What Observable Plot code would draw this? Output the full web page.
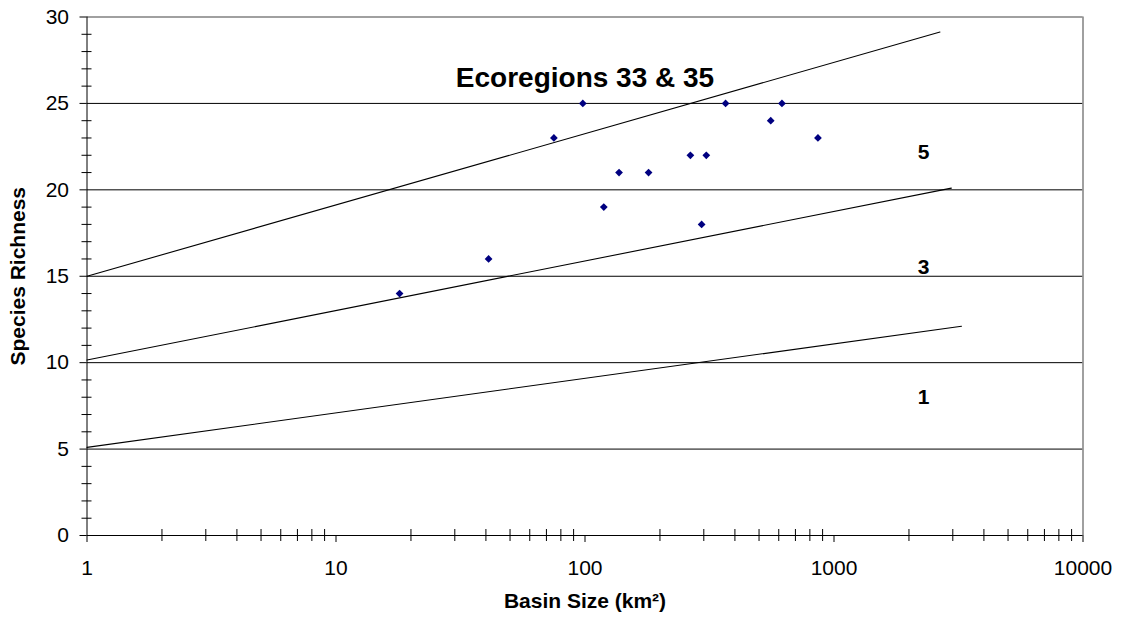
<!DOCTYPE html>
<html><head><meta charset="utf-8">
<script src="https://cdn.jsdelivr.net/npm/d3@7"></script>
<script src="https://cdn.jsdelivr.net/npm/@observablehq/plot@0.6"></script>
<style>html,body{margin:0;padding:0;background:#fff;} svg{display:block;}</style>
</head><body><div id="chart"></div>
<script>
// Observed basins
const basinSize = [18, 41, 75, 98, 119, 137, 180, 265, 294, 307, 367, 557, 618, 862];
const richness  = [14, 16, 23, 25, 19, 21, 21, 22, 18, 22, 25, 24, 25, 23];

// Scoring boundary lines (start and end points)
const boundaryNames  = ["upper", "middle", "lower"];
const boundaryStartX = [1, 1, 1];
const boundaryStartY = [15.0, 10.15, 5.1];
const boundaryEndX   = [2665, 2960, 3250];
const boundaryEndY   = [29.13, 20.1, 12.11];

// Zone score labels
const zoneLabels = ["5", "3", "1"];
const zoneLabelX = [2290, 2290, 2290];
const zoneLabelY = [22.2, 15.5, 8.0];

// Axes
const yTicks = [0, 5, 10, 15, 20, 25, 30];
const xTicks = [1, 10, 100, 1000, 10000];
const chartTitle = "Ecoregions 33 & 35";
const xTitle = "Basin Size (km²)";
const yTitle = "Species Richness";

const points = basinSize.map((x, i) => ({x, y: richness[i]}));
const boundaries = boundaryNames.flatMap((name, i) => [
  {name, x: boundaryStartX[i], y: boundaryStartY[i]},
  {name, x: boundaryEndX[i], y: boundaryEndY[i]}
]);
const labels = zoneLabels.map((t, i) => ({t, x: zoneLabelX[i], y: zoneLabelY[i]}));
const xMinor = [];
for (const d of [1, 10, 100, 1000]) for (let k = 2; k <= 9; k++) xMinor.push(d * k);
const yMinor = d3.range(0, 31).filter(v => v % 5 !== 0);

const font = "Arial, 'Liberation Sans', sans-serif";
const plot = Plot.plot({
  width: 1123, height: 631,
  marginLeft: 86.5, marginRight: 40.5, marginTop: 16.5, marginBottom: 96,
  style: {fontFamily: font, fontSize: "21px", color: "#000", background: "#fff"},
  x: {type: "log", domain: [1, 10000]},
  y: {domain: [0, 30]},
  marks: [
    Plot.ruleY(yTicks.filter(v => v > 0 && v < 30), {stroke: "#000", strokeWidth: 1}),
    Plot.ruleY([30], {stroke: "#808080", strokeWidth: 1.5}),
    Plot.ruleX([10000], {stroke: "#808080", strokeWidth: 1.5}),
    Plot.line(boundaries, {x: "x", y: "y", z: "name", stroke: "#000", strokeWidth: 1.1}),
    Plot.dot(points, {x: "x", y: "y", symbol: "diamond2", r: 3.5, fill: "#000080", stroke: "none"}),
    Plot.ruleX([1], {stroke: "#000", strokeWidth: 1}),
    Plot.ruleY([0], {stroke: "#000", strokeWidth: 1}),
    Plot.axisY({ticks: yTicks, tickSize: 7, tickPadding: 11, fontSize: 21, label: null, tickFormat: d => String(d)}),
    Plot.axisY({ticks: yMinor, tickSize: 10, dx: 5, fill: "none", label: null}),
    Plot.axisX({ticks: xTicks, tickSize: 7, tickPadding: 18, fontSize: 21, label: null, tickFormat: d => String(d)}),
    Plot.axisX({ticks: xMinor, tickSize: 12, dy: -6, fill: "none", label: null}),
    Plot.text(labels, {x: "x", y: "y", text: "t", fontWeight: "bold", fontSize: 21}),
    Plot.text([chartTitle], {frameAnchor: "top", dy: 50, text: d => d, fontWeight: "bold", fontSize: 28}),
    Plot.text([xTitle], {frameAnchor: "bottom", textAnchor: "middle", dy: 72.5, text: d => d, fontWeight: "bold", fontSize: 21}),
    Plot.text([yTitle], {frameAnchor: "left", textAnchor: "middle", dx: -69, rotate: -90, text: d => d, fontWeight: "bold", fontSize: 21})
  ]
});
document.getElementById("chart").appendChild(plot);
</script>
</body></html>
